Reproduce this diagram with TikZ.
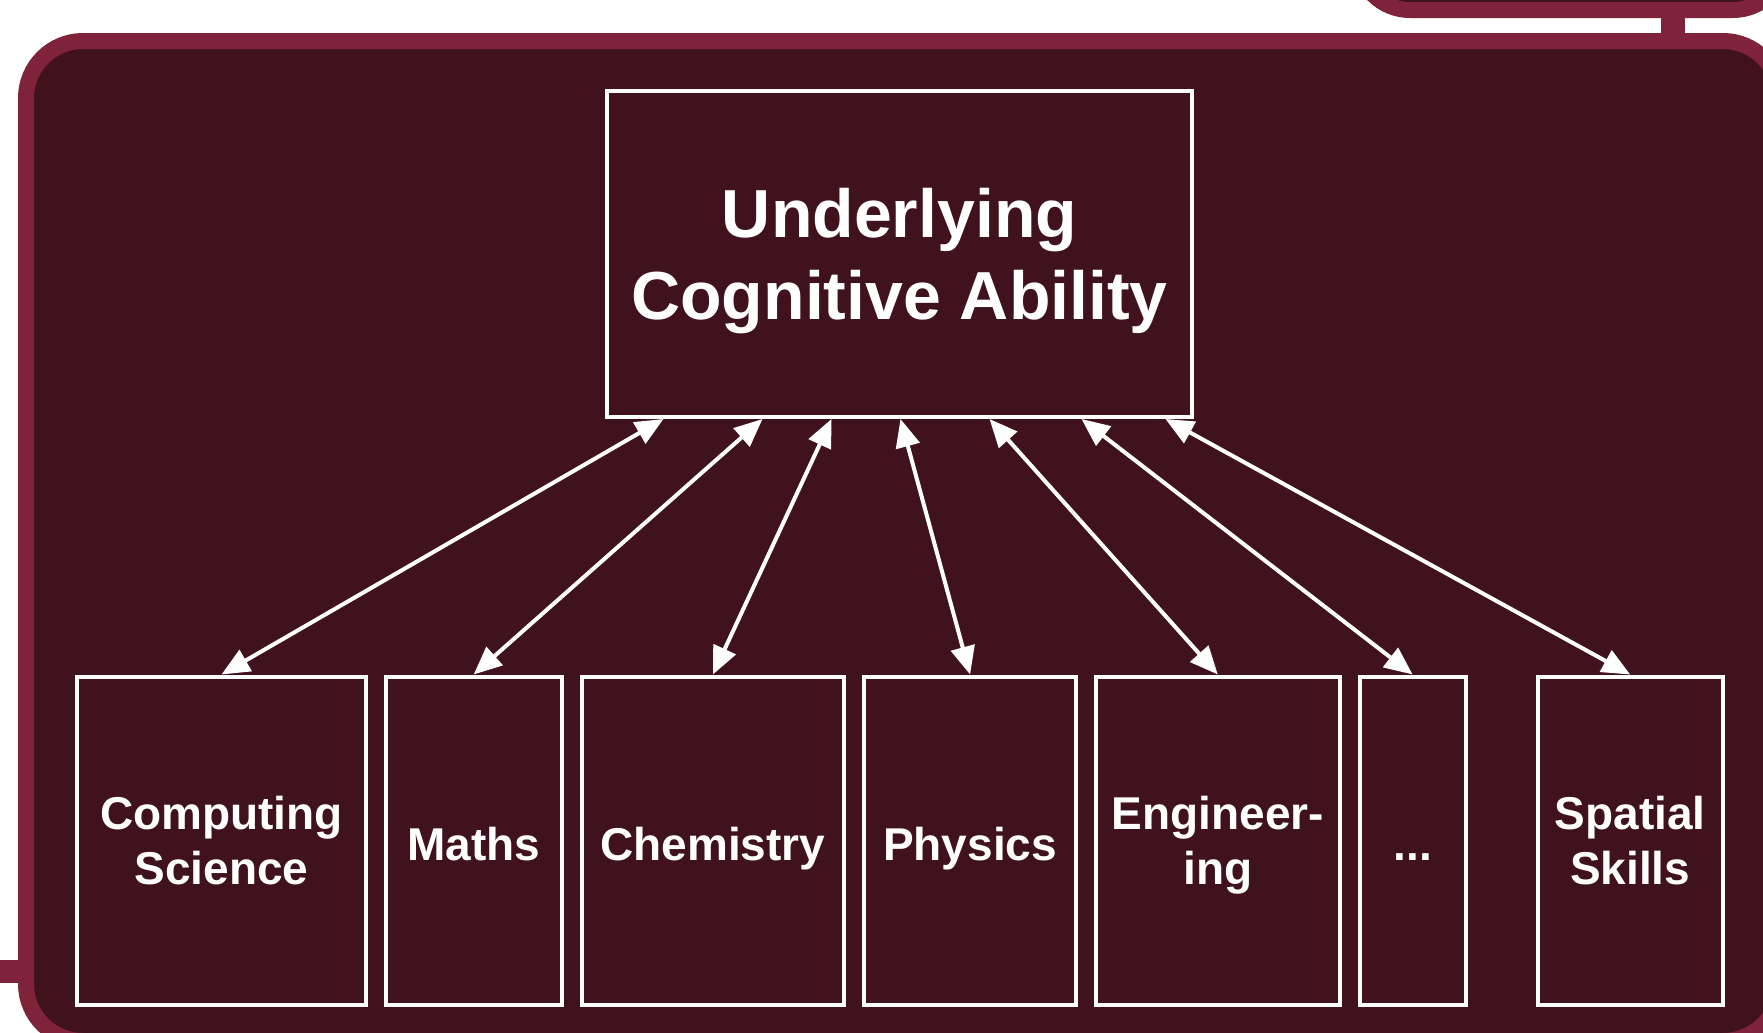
\documentclass[tikz,border=0pt]{standalone}
\usepackage{fontspec}
\setmainfont{Liberation Sans}
\usepackage{xcolor}
\usetikzlibrary{arrows.meta,positioning}
\definecolor{panel}{RGB}{64,18,29}
\definecolor{rim}{RGB}{126,35,57}

\begin{document}
\begin{tikzpicture}[
  x=0.5pt, y=-0.5pt,
  node distance=8pt,
  every node/.style={text=white},
  core/.style={draw=white, line width=2pt, align=center, minimum width=292.5pt, minimum height=163pt, font=\fontsize{34}{41}\selectfont\bfseries,
    execute at begin node={\rule{0pt}{73pt}}, execute at end node={\rule[-7.5pt]{0pt}{7.5pt}}},
  topic/.style={draw=white, line width=2pt, align=center, minimum height=164pt, inner sep=2pt, font=\fontsize{23}{27.5}\selectfont\bfseries,
    execute at begin node={\rule{0pt}{25pt}}, execute at end node={\rule[-5pt]{0pt}{5pt}}},
  twoline/.style={execute at begin node={\rule{0pt}{49pt}}},
  panelbox/.style={draw=rim, line width=8pt, fill=panel},
  stub/.style={draw=rim},
  arrow/.style={{Triangle[length=14pt,width=12pt]}-{Triangle[length=14pt,width=12pt]}, draw=white, line width=2pt}
]
\useasboundingbox (0,0) rectangle (1763,1033);
\clip (0,0) rectangle (1763,1033);

\draw[stub, line width=12pt] (1673,10) -- (1673,41);
\draw[stub, line width=11.5pt] (-5,971.5) -- (26,971.5);
\draw[panelbox, rounded corners=26pt] (1358,-100) rectangle (1785,10);
\draw[panelbox, rounded corners=28.5pt] (26,41) rectangle (1780,1041);

\node[core] (ability) at (899.5,254) {Underlying\\Cognitive Ability};
\node[topic, twoline, minimum width=144.2pt] (cs) at (221.5,840.5) {Computing\\Science};
\node[topic, minimum width=88pt, right=of cs] (maths) {Maths};
\node[topic, minimum width=131.2pt, right=of maths] (chem) {Chemistry};
\node[topic, minimum width=106pt, right=of chem] (phys) {Physics};
\node[topic, twoline, minimum width=121.7pt, right=of phys] (eng) {Engineer-\\ing};
\node[topic, minimum width=53.1pt, right=of eng] (more) {...};
\node[topic, twoline, minimum width=92.5pt, right=34pt of more] (spatial) {Spatial\\Skills};

\draw[arrow] ([xshift=-118pt]ability.south) -- (cs.north);
\draw[arrow] ([xshift=-68.5pt]ability.south) -- (maths.north);
\draw[arrow] ([xshift=-34pt]ability.south) -- (chem.north);
\draw[arrow] ([xshift=0.5pt]ability.south) -- (phys.north);
\draw[arrow] ([xshift=45pt]ability.south) -- (eng.north);
\draw[arrow] ([xshift=91pt]ability.south) -- (more.north);
\draw[arrow] ([xshift=133pt]ability.south) -- (spatial.north);
\end{tikzpicture}
\end{document}
